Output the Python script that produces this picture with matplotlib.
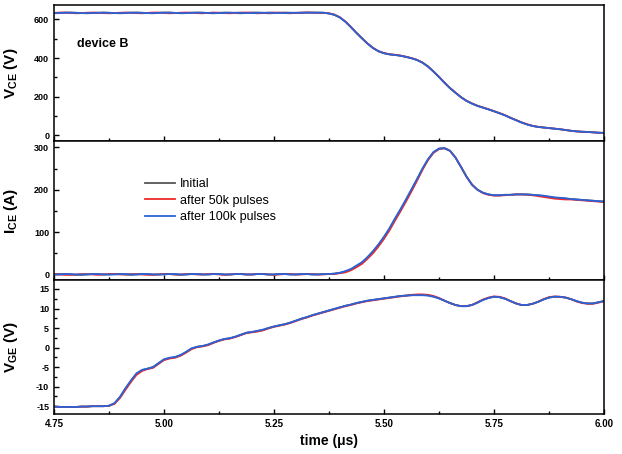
import numpy as np
import matplotlib
matplotlib.use("Agg")
import matplotlib.pyplot as plt
from matplotlib.ticker import MultipleLocator

plt.rcParams['font.family'] = ['Liberation Sans', 'DejaVu Sans']
plt.rcParams['mathtext.fontset'] = 'custom'
plt.rcParams['mathtext.rm'] = 'Liberation Sans'
plt.rcParams['mathtext.bf'] = 'Liberation Sans:bold'
plt.rcParams['axes.unicode_minus'] = False

# time axis in microseconds, 12.5 ns sampling
t = np.arange(101) * 0.0125 + 4.75

# collector-emitter voltage (V)
vce_init = [632, 633, 635, 636, 635, 633, 632, 633, 634, 636,
            635, 633, 632, 633, 635, 636, 635, 633, 632, 634,
            636, 636, 634, 632, 633, 635, 636, 635, 633, 632,
            634, 636, 635, 633, 632, 634, 636, 636, 634, 632,
            633, 635, 636, 635, 634, 634, 636, 636, 636, 635,
            631, 624, 610, 588, 560, 530, 502, 475, 452, 435,
            425, 419, 416, 412, 406, 399, 390, 376, 356, 330,
            302, 272, 244, 220, 197, 178, 164, 152, 143, 134,
            124, 114, 103, 90, 78, 66, 56, 48, 43, 40,
            37, 34, 31, 27, 23, 20, 18, 17, 15, 13, 12]
vce_50k = [634, 636, 636, 634, 632, 633, 635, 636, 635, 633,
           632, 633, 635, 636, 635, 633, 632, 634, 636, 636,
           634, 632, 633, 635, 636, 635, 633, 632, 634, 636,
           635, 633, 632, 634, 636, 636, 634, 632, 633, 635,
           636, 635, 633, 632, 634, 636, 636, 635, 634, 634,
           632, 625, 611, 589, 561, 531, 503, 476, 453, 436,
           426, 420, 417, 413, 407, 400, 391, 377, 357, 331,
           303, 273, 245, 221, 198, 179, 165, 153, 144, 135,
           125, 115, 104, 91, 79, 67, 57, 49, 44, 40,
           37, 34, 31, 27, 23, 20, 18, 17, 15, 13, 12]
vce_100k = [633, 634, 635, 635, 634, 633, 633, 634, 635, 635,
            634, 633, 633, 634, 635, 635, 634, 633, 633, 634,
            635, 635, 634, 633, 633, 634, 635, 635, 634, 633,
            633, 634, 635, 635, 634, 633, 633, 634, 635, 635,
            634, 633, 633, 634, 635, 635, 635, 635, 635, 635,
            631, 624, 610, 588, 560, 530, 502, 475, 452, 435,
            425, 419, 416, 412, 406, 399, 390, 376, 356, 330,
            302, 272, 244, 220, 197, 178, 164, 152, 143, 134,
            124, 114, 103, 90, 78, 66, 56, 48, 43, 40,
            37, 34, 31, 27, 23, 20, 18, 17, 15, 13, 12]

# collector current (A)
ice_init = [0, 1, 1, 0, -1, -1, 0, 1, 1, 0,
            0, 1, 1, 0, -1, 0, 1, 1, 0, 0,
            1, 1, 0, -1, 0, 1, 1, 0, 0, 1,
            1, 0, 0, 1, 1, 0, 0, 1, 1, 0,
            0, 1, 1, 0, 0, 1, 1, 0, 0, 1,
            1, 2, 4, 7, 12, 20, 28, 40, 54, 70,
            88, 108, 131, 153, 176, 200, 224, 249, 271, 288,
            297, 298, 292, 276, 254, 231, 212, 200, 193, 189,
            187, 187, 188, 188, 189, 189, 189, 188, 187, 185,
            183, 181, 180, 179, 178, 177, 176, 175, 174, 173, 172]
ice_50k = [1, 0, -1, -1, 0, 1, 1, 0, -1, 0,
           1, 1, 0, 0, 1, 1, 0, -1, -1, 0,
           1, 1, 0, 0, 1, 1, 0, 0, 1, 1,
           0, -1, 0, 1, 1, 0, 0, 1, 1, 0,
           -1, 0, 1, 1, 0, 0, 1, 1, 0, 0,
           1, 1, 3, 5, 10, 17, 25, 37, 50, 66,
           84, 104, 127, 149, 172, 196, 221, 247, 270, 287,
           296, 298, 292, 276, 254, 231, 212, 200, 192, 188,
           186, 186, 187, 188, 189, 189, 188, 187, 185, 183,
           181, 179, 178, 177, 177, 176, 175, 174, 173, 172, 171]
ice_100k = [0, 0, 1, 1, 0, 0, 0, 1, 1, 0,
            0, 0, 1, 1, 0, 0, 1, 1, 0, 0,
            0, 1, 1, 0, 0, 1, 1, 0, 0, 1,
            1, 0, 0, 1, 1, 0, 0, 1, 1, 0,
            0, 1, 1, 0, 0, 1, 1, 0, 0, 1,
            1, 2, 4, 8, 13, 21, 29, 41, 55, 71,
            89, 109, 132, 154, 177, 201, 225, 250, 272, 289,
            297, 298, 292, 276, 254, 231, 212, 200, 193, 189,
            187, 187, 188, 188, 189, 189, 189, 188, 187, 186,
            184, 182, 181, 180, 178, 177, 176, 175, 174, 173, 172]

# gate-emitter voltage (V)
vge_init = [-15.1, -15.2, -15.2, -15.2, -15.2, -15.1, -15.1, -15.0, -15.0, -15.0,
            -14.9, -14.3, -12.7, -10.5, -8.5, -6.7, -5.8, -5.4, -5.0, -4.0,
            -3.1, -2.7, -2.5, -2.0, -1.2, -0.3, 0.2, 0.4, 0.7, 1.3,
            1.8, 2.2, 2.4, 2.8, 3.3, 3.8, 4.0, 4.2, 4.5, 5.0,
            5.4, 5.7, 6.0, 6.4, 6.9, 7.4, 7.8, 8.3, 8.7, 9.1,
            9.5, 9.9, 10.3, 10.7, 11.0, 11.4, 11.7, 12.0, 12.2, 12.4,
            12.6, 12.8, 13.0, 13.2, 13.3, 13.4, 13.5, 13.5, 13.4, 13.1,
            12.6, 12.0, 11.4, 10.9, 10.6, 10.6, 10.9, 11.5, 12.2, 12.7,
            13.0, 12.9, 12.5, 11.9, 11.3, 10.9, 10.9, 11.2, 11.7, 12.3,
            12.8, 13.0, 13.0, 12.8, 12.4, 11.9, 11.5, 11.3, 11.3, 11.6, 11.9]
vge_50k = [-15.1, -15.2, -15.2, -15.2, -15.2, -15.1, -15.1, -15.0, -15.0, -15.0,
           -14.9, -14.4, -12.9, -10.8, -8.8, -7.0, -6.0, -5.5, -5.2, -4.2,
           -3.2, -2.8, -2.6, -2.1, -1.3, -0.4, 0.1, 0.3, 0.6, 1.2,
           1.7, 2.1, 2.3, 2.7, 3.2, 3.7, 3.9, 4.1, 4.4, 4.9,
           5.3, 5.6, 5.9, 6.3, 6.8, 7.3, 7.7, 8.2, 8.6, 9.0,
           9.4, 9.8, 10.2, 10.6, 10.9, 11.3, 11.6, 11.9, 12.1, 12.3,
           12.5, 12.7, 12.9, 13.1, 13.3, 13.5, 13.6, 13.6, 13.5, 13.2,
           12.7, 12.0, 11.4, 10.9, 10.6, 10.6, 10.9, 11.6, 12.3, 12.8,
           13.1, 13.0, 12.6, 11.9, 11.3, 10.9, 10.9, 11.2, 11.7, 12.4,
           12.9, 13.1, 13.0, 12.8, 12.4, 11.8, 11.4, 11.2, 11.2, 11.5, 11.9]
vge_100k = [-15.1, -15.2, -15.2, -15.2, -15.2, -15.1, -15.1, -15.0, -15.0, -15.0,
            -14.9, -14.2, -12.6, -10.4, -8.4, -6.6, -5.7, -5.4, -5.0, -4.0,
            -3.0, -2.6, -2.4, -1.9, -1.1, -0.2, 0.2, 0.4, 0.8, 1.3,
            1.8, 2.2, 2.4, 2.8, 3.3, 3.8, 4.0, 4.3, 4.6, 5.0,
            5.4, 5.7, 6.0, 6.4, 6.9, 7.4, 7.8, 8.3, 8.7, 9.1,
            9.5, 9.9, 10.3, 10.7, 11.0, 11.4, 11.7, 12.0, 12.2, 12.4,
            12.6, 12.8, 13.0, 13.2, 13.3, 13.4, 13.4, 13.4, 13.3, 13.0,
            12.6, 12.0, 11.4, 10.9, 10.6, 10.6, 10.9, 11.5, 12.2, 12.7,
            13.0, 12.9, 12.5, 11.9, 11.3, 10.9, 10.9, 11.2, 11.7, 12.3,
            12.8, 13.0, 13.0, 12.8, 12.4, 11.9, 11.5, 11.3, 11.3, 11.6, 11.9]

labels = ['Initial', 'after 50k pulses', 'after 100k pulses']
colors = ['#555555', '#ee2a2a', '#2a62d8']

fig = plt.figure(figsize=(6.22, 4.54), dpi=100)
left, width = 0.0868, 0.8842
ax1 = fig.add_axes([left, 0.6894, width, 0.2996])
ax2 = fig.add_axes([left, 0.3833, width, 0.3061], sharex=ax1)
ax3 = fig.add_axes([left, 0.0881, width, 0.2952], sharex=ax1)

for ax, series in zip([ax1, ax2, ax3], [(vce_init, vce_50k, vce_100k),
                                         (ice_init, ice_50k, ice_100k),
                                         (vge_init, vge_50k, vge_100k)]):
    for y, c, lab in zip(series, colors, labels):
        assert len(y) == len(t)
        ax.plot(t, y, color=c, lw=1.3, label=lab)
    ax.tick_params(which='both', direction='in', labelsize=6.5, width=1)
    ax.tick_params(which='major', length=3.5)
    ax.tick_params(which='minor', length=2)
    for s in ax.spines.values():
        s.set_linewidth(1.1)
    ax.xaxis.set_major_locator(MultipleLocator(0.25))
    ax.xaxis.set_minor_locator(MultipleLocator(0.125))
    ax.yaxis.set_label_coords(-0.062, 0.5)

ax1.set_xlim(4.75, 6.0)
ax1.set_ylim(-30, 675)
ax1.yaxis.set_major_locator(MultipleLocator(200))
ax1.yaxis.set_minor_locator(MultipleLocator(100))
ax1.set_ylabel(r'$\mathbf{V_{CE}}$ (V)', fontsize=11, fontweight='bold')
ax1.text(0.042, 0.713, 'device B', transform=ax1.transAxes, fontsize=9,
         fontweight='bold', ha='left', va='center')

ax2.set_ylim(-13, 315)
ax2.yaxis.set_major_locator(MultipleLocator(100))
ax2.yaxis.set_minor_locator(MultipleLocator(50))
ax2.set_ylabel(r'$\mathbf{I_{CE}}$ (A)', fontsize=11, fontweight='bold')
ax2.legend(loc='center left', bbox_to_anchor=(0.165, 0.57), frameon=False,
           fontsize=9, borderpad=0, borderaxespad=0, handlelength=2.4,
           handletextpad=0.4, labelspacing=0.35)

ax3.set_ylim(-17, 17.3)
ax3.yaxis.set_major_locator(MultipleLocator(5))
ax3.yaxis.set_minor_locator(MultipleLocator(2.5))
ax3.set_ylabel(r'$\mathbf{V_{GE}}$ (V)', fontsize=11, fontweight='bold')
ax3.set_xlabel('time (μs)', fontsize=10, fontweight='bold')

plt.setp(ax1.get_xticklabels(), visible=False)
plt.setp(ax2.get_xticklabels(), visible=False)
for ax in (ax1, ax2, ax3):
    for lab in ax.get_yticklabels() + ax.get_xticklabels():
        lab.set_fontweight('bold')
for lab in ax3.get_xticklabels():
    lab.set_fontsize(7)

fig.savefig('out.png', dpi=100)
